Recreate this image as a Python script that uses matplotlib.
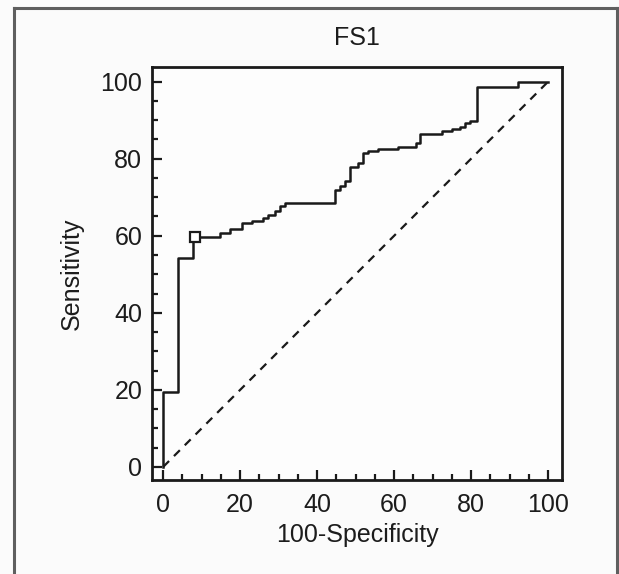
import matplotlib
matplotlib.use("Agg")
import matplotlib.pyplot as plt
from matplotlib.lines import Line2D
from matplotlib.ticker import MultipleLocator

# ROC points (100-Specificity, Sensitivity), drawn as steps
fpr = [0, 0, 3.9, 7.8, 14.7, 17.3, 20.4, 23.0, 26.0, 27.3, 29.0, 30.3, 31.6,
       44.6, 45.9, 47.2, 48.5, 50.7, 52.0, 53.3, 55.8, 61.0, 65.8, 66.7,
       72.3, 74.9, 77.1, 78.4, 79.7, 81.4, 92.2, 100]
tpr = [0, 19.5, 54.2, 59.6, 60.8, 61.7, 63.2, 63.7, 64.5, 65.4, 66.3, 67.6, 68.4,
       71.9, 73.0, 74.2, 77.9, 79.0, 81.4, 82.1, 82.5, 83.0, 84.0, 86.4,
       87.1, 87.6, 88.3, 89.2, 89.9, 98.7, 100, 100]
criterion = (8.2, 59.6)
diag_x = [0, 100]
diag_y = [0, 100]
title = "FS1"
xlabel = "100-Specificity"
ylabel = "Sensitivity"

plt.rcParams['font.family'] = ['Liberation Sans', 'DejaVu Sans']
plt.rcParams['lines.scale_dashes'] = False
txt = '#1c1c1c'

W, H = 619, 574
fig = plt.figure(figsize=(W / 100, H / 100), dpi=100)
fig.patch.set_facecolor('#fbfbfb')

# outer frame
fc = '#5f5f5f'
fig.add_artist(Line2D([14 / W, 14 / W], [0, 1 - 7.7 / H], transform=fig.transFigure, color=fc, lw=2.2))
fig.add_artist(Line2D([14 / W, 617 / W], [1 - 7.7 / H, 1 - 7.7 / H], transform=fig.transFigure, color=fc, lw=2.2))
fig.add_artist(Line2D([617 / W, 617 / W], [0, 1 - 7.7 / H], transform=fig.transFigure, color=fc, lw=2.2))

ax = fig.add_axes([152 / W, 1 - 480 / H, (562 - 152) / W, (480 - 67) / H])
ax.set_facecolor('#fdfdfd')
ax.set_xlim(-2.9, 103.6)
ax.set_ylim(-3.4, 103.8)

ax.plot(fpr, tpr, drawstyle='steps-post', color='#1a1a1a', lw=1.8)
ax.plot(diag_x, diag_y, color='#1a1a1a', lw=1.6, dashes=(6, 5))
ax.plot([criterion[0]], [criterion[1]], marker='s', ms=7, mfc='white', mec='#1a1a1a', mew=1.6)

for s in ax.spines.values():
    s.set_linewidth(2.0)
    s.set_color('#1a1a1a')

ax.xaxis.set_major_locator(MultipleLocator(20))
ax.xaxis.set_minor_locator(MultipleLocator(5))
ax.yaxis.set_major_locator(MultipleLocator(20))
ax.yaxis.set_minor_locator(MultipleLocator(5))
ax.tick_params(which='major', direction='in', length=7.5, width=1.6, color='#1a1a1a',
               labelsize=18, labelcolor=txt, pad=7)
ax.tick_params(which='minor', direction='in', length=4, width=1.6, color='#1a1a1a')
ax.tick_params(axis='x', which='major', pad=9)

ax.set_title(title, fontsize=18, color=txt, pad=16)
ax.set_xlabel(xlabel, fontsize=18, color=txt, labelpad=5)
ax.set_ylabel(ylabel, fontsize=18, color=txt, labelpad=12)

fig.savefig('out.png', dpi=100, facecolor=fig.get_facecolor())
